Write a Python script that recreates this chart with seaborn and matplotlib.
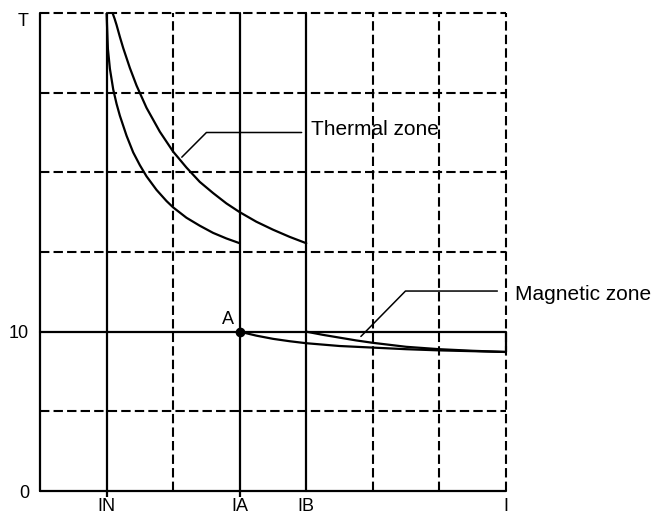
import matplotlib
matplotlib.use("Agg")
import matplotlib.pyplot as plt
import seaborn as sns

sns.set_style("white")
plt.rcParams["font.family"] = ["Liberation Sans", "DejaVu Sans"]
plt.rcParams["text.color"] = "black"
plt.rcParams["xtick.color"] = "black"
plt.rcParams["ytick.color"] = "black"

# axis labels (grid units: 7 columns, 6 rows)
x_ticks = [1, 3, 4, 7]
x_labels = ["IN", "IA", "IB", "I"]
y_ticks = [0, 2, 6]
y_labels = ["0", "10", "T"]

solid_x = [0, 1, 3, 4]
dashed_x = [2, 5, 6, 7]
solid_y = [0, 2]
dashed_y = [1, 3, 4, 5, 6]
tick_mark_x = [1, 3]

# thermal zone curves
thermal_in_x = [1.00, 1.02, 1.05, 1.10, 1.15, 1.20, 1.30, 1.40, 1.50, 1.60, 1.75,
                1.90, 2.00, 2.20, 2.40, 2.60, 2.80, 3.00]
thermal_in_y = [6.00, 5.55, 5.30, 5.04, 4.86, 4.71, 4.46, 4.25, 4.09, 3.95, 3.78,
                3.64, 3.56, 3.43, 3.33, 3.24, 3.17, 3.11]
thermal_out_x = [1.09, 1.12, 1.15, 1.20, 1.25, 1.35, 1.45, 1.60, 1.80, 2.00, 2.20, 2.40,
                 2.60, 2.80, 3.00, 3.25, 3.50, 3.75, 4.00]
thermal_out_y = [6.00, 5.93, 5.85, 5.70, 5.56, 5.31, 5.09, 4.81, 4.51, 4.26, 4.06, 3.88,
                 3.74, 3.61, 3.50, 3.38, 3.28, 3.19, 3.11]

# magnetic zone curves
mag_low_x = [3.0, 3.25, 3.5, 3.75, 4.0, 4.5, 5.0, 5.5, 6.0, 6.5, 7.0]
mag_low_y = [2.0, 1.95, 1.91, 1.88, 1.855, 1.82, 1.80, 1.78, 1.765, 1.755, 1.745]
mag_up_x = [4.0, 4.25, 4.5, 4.75, 5.0, 5.5, 6.0, 6.5, 7.0]
mag_up_y = [2.0, 1.96, 1.925, 1.89, 1.86, 1.81, 1.78, 1.76, 1.745]

point_a = (3, 2)

# leader lines for the zone labels
thermal_leader_x = [2.13, 2.50, 3.93]
thermal_leader_y = [4.19, 4.50, 4.50]
magnetic_leader_x = [4.82, 5.49, 6.87]
magnetic_leader_y = [1.94, 2.51, 2.51]

fig = plt.figure(figsize=(6.59, 5.16), dpi=100)
ax = fig.add_axes([40 / 659, 25 / 516, 466 / 659, 478 / 516])
ax.set_xlim(0, 7)
ax.set_ylim(0, 6)
for s in ax.spines.values():
    s.set_visible(False)

dash = (0, (4.5, 2))
for x in solid_x:
    ax.axvline(x, color="black", lw=1.6, clip_on=False, zorder=2)
for x in dashed_x:
    ax.axvline(x, color="black", lw=1.5, ls=dash, clip_on=False, zorder=1)
for y in solid_y:
    ax.axhline(y, color="black", lw=1.6, clip_on=False, zorder=2)
for y in dashed_y:
    ax.axhline(y, color="black", lw=1.5, ls=dash, clip_on=False, zorder=1)
ax.vlines(tick_mark_x, -0.08, 0, color="black", lw=1.6, clip_on=False)

kw = dict(ax=ax, color="black", linewidth=1.6, sort=False, estimator=None)
sns.lineplot(x=thermal_in_x, y=thermal_in_y, **kw)
sns.lineplot(x=thermal_out_x, y=thermal_out_y, **kw)
sns.lineplot(x=mag_low_x, y=mag_low_y, **kw)
sns.lineplot(x=mag_up_x, y=mag_up_y, **kw)
ax.vlines(mag_low_x[-1], mag_low_y[-1], 2, color="black", lw=1.6, clip_on=False)

ax.plot(*point_a, "o", color="black", ms=6, zorder=5)
ax.text(point_a[0] - 0.09, point_a[1] + 0.05, "A", fontsize=13, ha="right", va="bottom")

ax.plot(thermal_leader_x, thermal_leader_y, color="black", lw=1.1)
ax.text(4.07, 4.54, "Thermal zone", fontsize=15, ha="left", va="center")
ax.plot(magnetic_leader_x, magnetic_leader_y, color="black", lw=1.1, clip_on=False)
ax.text(7.13, 2.47, "Magnetic zone", fontsize=15, ha="left", va="center")

ax.set_xticks(x_ticks)
ax.set_xticklabels(x_labels, fontsize=13)
ax.set_yticks(y_ticks)
ax.set_yticklabels(y_labels, fontsize=13)
ax.tick_params(axis="x", length=0, pad=5)
ax.tick_params(axis="y", length=0, pad=8)
for lab in ax.get_yticklabels():
    if lab.get_text() == "T":
        lab.set_va("top")

fig.savefig("out.png", dpi=100)
